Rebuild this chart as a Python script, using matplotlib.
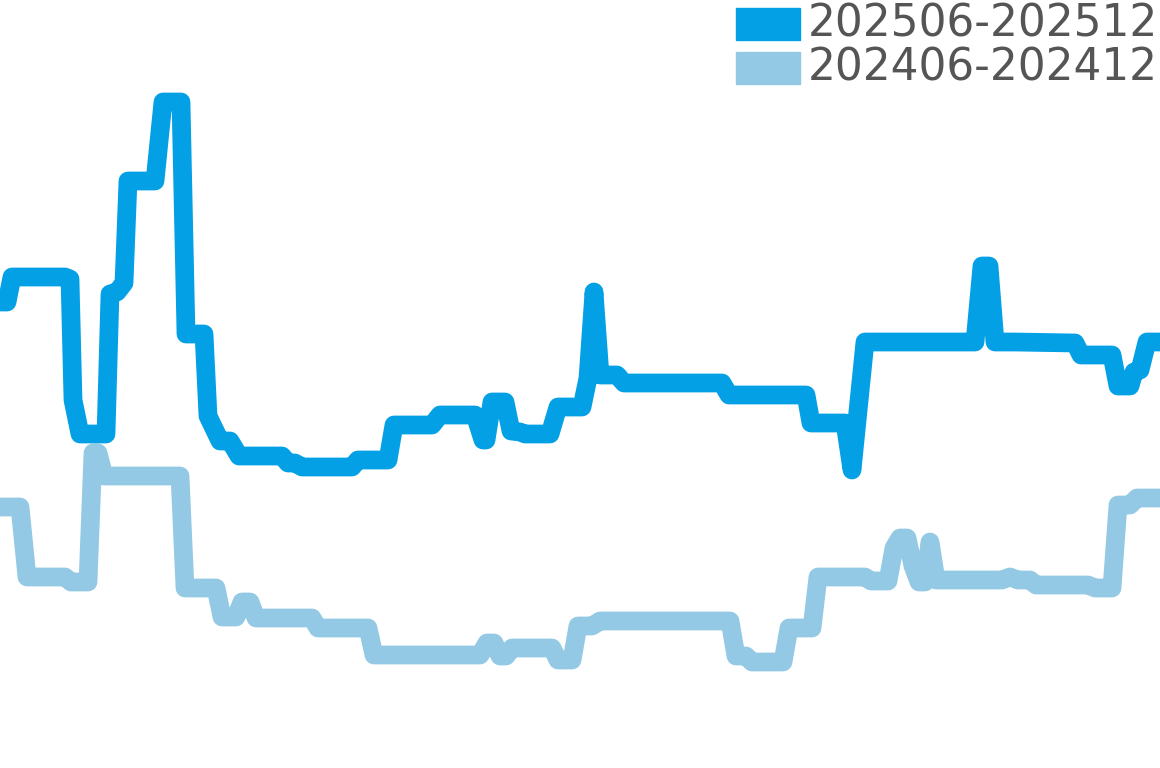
import matplotlib
matplotlib.use('Agg')
import matplotlib.pyplot as plt
from matplotlib.patches import Rectangle

# Series labels and colours
labels = ['202506-202512', '202406-202412']
colors = ['#03a0e6', '#93c9e4']

# 202506-202512 (x position, value)
x_new = [0, 7, 12, 65, 70, 73, 80, 106, 110, 117, 124, 128, 155, 163, 181, 186, 204, 208,
         220, 230, 239, 282, 288, 295, 302, 352, 358, 388, 394, 432, 440, 475, 483, 486,
         492, 505, 511, 520, 525, 550, 558, 582, 588, 594, 600, 617, 624, 722, 729, 806,
         811, 845, 852, 865, 975, 982, 989, 995, 1015, 1075, 1081, 1112, 1118, 1130, 1134,
         1140, 1147, 1160]
y_new = [466, 466, 491, 491, 489, 368, 334, 334, 474, 476, 485, 587, 587, 666, 666, 434, 434, 352,
         327, 327, 312, 312, 305, 305, 301, 301, 308, 308, 343, 343, 353, 353, 328, 328,
         366, 366, 337, 336, 334, 334, 361, 361, 390, 476, 393, 393, 385, 385, 373, 373,
         345, 345, 298, 426, 426, 502, 502, 426, 426, 425, 413, 413, 382, 382, 396,
         398, 426, 426]

# 202406-202412 (x position, value)
x_old = [0, 20, 27, 65, 71, 88, 93, 98, 104, 180, 185, 216, 222, 236, 242, 250, 256, 312,
         318, 368, 374, 480, 487, 494, 500, 506, 512, 552, 558, 572, 578, 592, 600, 730,
         736, 746, 752, 783, 789, 812, 818, 865, 871, 888, 894, 900, 907, 913, 919, 925,
         930, 936, 1002, 1010, 1018, 1030, 1036, 1088, 1095, 1112, 1118, 1130, 1137, 1160]
y_old = [261, 261, 191, 191, 186, 186, 315, 315, 292, 292, 180, 180, 151, 151, 166, 166, 150, 150,
         140, 140, 113, 113, 125, 125, 112, 112, 120, 120, 108, 108, 142, 142, 147, 147,
         112, 112, 106, 106, 140, 140, 191, 191, 187, 187, 220, 230, 230, 202, 186, 186,
         226, 188, 188, 191, 188, 188, 183, 183, 180, 180, 263, 263, 270, 270]

fig = plt.figure(figsize=(11.6, 7.68), dpi=100)
ax = fig.add_axes([0, 0, 1, 1])

ax.plot(x_old, y_old, color=colors[1], linewidth=13.5, solid_joinstyle='round',
        solid_capstyle='round', zorder=2)
ax.plot(x_new, y_new, color=colors[0], linewidth=13.5, solid_joinstyle='round',
        solid_capstyle='round', zorder=3)

ax.set_xlim(0, 1160)
ax.set_ylim(0, 768)
ax.axis('off')

# Legend drawn in figure pixels (top right)
for i, (lab, col) in enumerate(zip(labels, colors)):
    top = 8 + i * 44
    fig.patches.append(Rectangle((736 / 1160, 1 - (top + 32) / 768), 64 / 1160, 32 / 768,
                                 transform=fig.transFigure, color=col))
    fig.text(808 / 1160, 1 - (top + 16) / 768, lab, fontsize=31.5, color='#555555',
             va='center', ha='left', family='DejaVu Sans')

fig.savefig('out.png', dpi=100)
